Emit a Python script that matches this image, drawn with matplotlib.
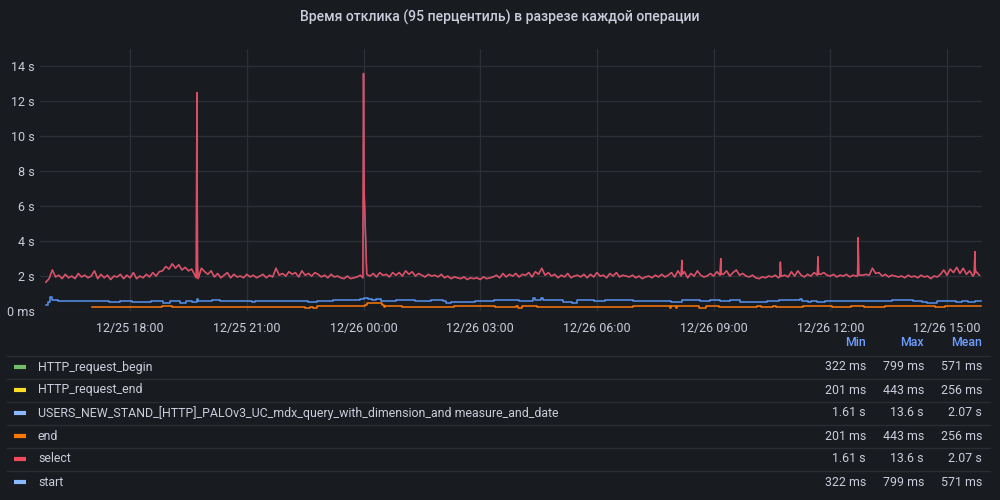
import pandas as pd
import matplotlib
matplotlib.use('Agg')
import matplotlib.pyplot as plt
import matplotlib.dates as mdates
from matplotlib.lines import Line2D
from matplotlib.ticker import FuncFormatter

plt.rcParams['font.family'] = ['Roboto', 'DejaVu Sans']

BG = '#181b1f'
TXT = '#ccccdc'
GRID = '#2c2f35'

title = 'Время отклика (95 перцентиль) в разрезе каждой операции'

# select / USERS_NEW_STAND... (same data), seconds, every 5 min from 12/25 15:50
sel_start = '2023-12-25 15:50'
select_vals = [
    1.65, 1.85, 2.35, 1.95, 2.05, 1.85, 2.1, 1.9, 2.0, 1.85, 2.15, 1.95,
    2.05, 1.9, 2.0, 2.3, 1.85, 2.1, 1.9, 2.05, 1.8, 2.0, 1.95, 2.1,
    1.85, 2.05, 1.9, 2.2, 1.85, 2.0, 1.9, 2.1, 1.95, 2.2, 2.0, 2.25,
    2.3, 2.55, 2.4, 2.7, 2.45, 2.65, 2.35, 2.5, 2.3, 2.4, 2.05, 1.85,
    2.45, 2.25, 2.1, 2.3, 1.95, 2.15, 1.9, 2.05, 2.2, 1.9, 2.1, 1.95,
    2.0, 1.9, 2.1, 1.95, 2.05, 1.9, 2.0, 2.1, 1.9, 2.05, 1.95, 2.45,
    2.05, 2.15, 2.0, 2.25, 2.1, 2.2, 1.95, 2.3, 2.05, 2.15, 2.0, 2.2,
    2.1, 1.95, 2.05, 1.9, 2.1, 1.95, 2.0, 1.9, 1.85, 2.0, 1.85, 1.9,
    1.95, 2.05, 1.9, 2.1, 2.0, 2.15, 1.95, 2.2, 2.05, 2.1, 1.95, 2.2,
    2.05, 2.2, 2.0, 2.3, 2.1, 2.25, 2.0, 2.15, 2.05, 1.95, 2.1, 2.0,
    2.05, 1.95, 2.1, 1.9, 2.0, 1.85, 1.95, 1.9, 1.85, 1.95, 1.8, 1.9,
    1.85, 1.9, 1.8, 1.95, 1.85, 1.9, 1.95, 2.05, 1.9, 2.15, 1.95, 2.1,
    2.0, 2.15, 1.95, 2.1, 2.05, 2.2, 1.95, 2.25, 2.1, 2.45, 2.05, 2.2,
    2.0, 2.1, 1.9, 2.05, 1.95, 2.15, 1.9, 2.0, 2.05, 1.95, 2.1, 1.9,
    2.1, 1.95, 2.2, 2.0, 2.05, 1.9, 2.15, 2.0, 2.2, 1.95, 2.05, 2.0,
    1.95, 2.05, 1.9, 2.0, 1.85, 1.95, 2.0, 1.9, 2.05, 1.95, 2.1, 1.95,
    2.05, 2.2, 1.95, 2.3, 2.0, 2.25, 1.9, 2.15, 2.0, 2.3, 2.05, 1.95,
    2.0, 2.15, 2.0, 2.25, 2.05, 2.1, 2.3, 2.0, 2.2, 2.35, 2.05, 2.15,
    2.0, 1.95, 2.05, 1.9, 1.85, 1.95, 1.9, 2.0, 1.95, 2.05, 1.9, 2.0,
    2.05, 1.95, 2.25, 2.0, 2.3, 2.05, 1.95, 2.1, 2.0, 2.2, 2.0, 2.1,
    2.2, 2.05, 2.0, 2.1, 1.95, 2.05, 2.0, 2.1, 1.95, 2.05, 2.0, 2.05,
    2.05, 2.1, 2.05, 2.45, 2.15, 2.2, 2.0, 2.1, 1.95, 2.05, 2.0, 1.95,
    2.0, 1.9, 2.05, 1.95, 2.0, 1.9, 2.05, 1.95, 2.0, 1.85, 2.0, 1.95,
    2.1, 2.35, 2.05, 2.4, 2.2, 2.5, 2.15, 2.45, 2.1, 2.3, 2.0, 2.25,
    2.05,
]

# short spikes in select (1-min samples around each peak)
spike_times = ['12/25 19:43', '12/26 00:00', '12/26 08:11', '12/26 09:11',
               '12/26 10:43', '12/26 11:41', '12/26 12:43', '12/26 15:43']
spike_peaks = [12.5, 13.6, 2.9, 3.0, 2.8, 3.1, 4.2, 3.4]
spike_left = [1.9, 1.9, 2.0, 2.05, 1.95, 2.05, 2.0, 2.1]
spike_right = [2.6, 6.9, 2.1, 2.1, 2.0, 2.1, 2.1, 2.2]

# start / HTTP_request_begin, seconds, value holds until next change
start_times = ['12/25 15:50', '12/25 15:53', '12/25 15:57', '12/25 16:00', '12/25 16:09',
               '12/25 17:28', '12/25 17:45', '12/25 18:03', '12/25 18:32', '12/25 18:51',
               '12/25 19:02', '12/25 19:17', '12/25 19:26', '12/25 19:35', '12/25 19:43',
               '12/25 19:45', '12/25 20:06', '12/25 20:19', '12/25 21:08', '12/25 21:13',
               '12/25 22:02', '12/25 22:35', '12/25 22:49', '12/25 23:13', '12/25 23:54',
               '12/26 00:01', '12/26 00:07', '12/26 00:13', '12/26 00:20', '12/26 00:27',
               '12/26 00:50', '12/26 01:20', '12/26 01:44', '12/26 02:02', '12/26 02:08',
               '12/26 02:15', '12/26 02:52', '12/26 03:21', '12/26 04:00', '12/26 04:22',
               '12/26 04:25', '12/26 04:34', '12/26 04:37', '12/26 05:07', '12/26 05:21',
               '12/26 05:29', '12/26 05:56', '12/26 06:13', '12/26 06:56', '12/26 07:23',
               '12/26 07:55', '12/26 08:12', '12/26 08:39', '12/26 08:55', '12/26 09:10',
               '12/26 09:25', '12/26 09:41', '12/26 10:22', '12/26 10:41', '12/26 11:13',
               '12/26 11:16', '12/26 11:26', '12/26 11:31', '12/26 11:40', '12/26 11:52',
               '12/26 13:35', '12/26 14:08', '12/26 14:21', '12/26 14:29', '12/26 14:44',
               '12/26 15:14', '12/26 15:23', '12/26 15:33', '12/26 15:43', '12/26 15:52']
start_vals = [0.34, 0.53, 0.78, 0.65, 0.57,
              0.52, 0.57, 0.52, 0.57, 0.47,
              0.57, 0.48, 0.57, 0.52, 0.67,
              0.57, 0.63, 0.57, 0.52, 0.55,
              0.57, 0.52, 0.57, 0.63, 0.69,
              0.73, 0.69, 0.63, 0.69, 0.57,
              0.63, 0.57, 0.63, 0.55, 0.44,
              0.54, 0.57, 0.61, 0.57, 0.73,
              0.65, 0.73, 0.61, 0.54, 0.48,
              0.61, 0.57, 0.61, 0.55, 0.59,
              0.54, 0.63, 0.57, 0.61, 0.57,
              0.61, 0.52, 0.57, 0.63, 0.69,
              0.57, 0.52, 0.57, 0.52, 0.57,
              0.63, 0.57, 0.54, 0.44, 0.57,
              0.52, 0.57, 0.52, 0.57, 0.57]

# end / HTTP_request_end, seconds
end_times = ['12/25 17:01', '12/25 18:49', '12/25 19:04', '12/25 22:27', '12/25 22:30',
             '12/25 22:38', '12/25 22:42', '12/25 22:49', '12/26 00:02', '12/26 00:05',
             '12/26 00:28', '12/26 00:31', '12/26 00:33', '12/26 01:00', '12/26 02:20',
             '12/26 03:23', '12/26 03:55', '12/26 03:59', '12/26 04:04', '12/26 04:27',
             '12/26 06:55', '12/26 07:53', '12/26 07:54', '12/26 08:02', '12/26 08:03',
             '12/26 08:37', '12/26 08:48', '12/26 09:08', '12/26 10:07', '12/26 10:13',
             '12/26 10:32', '12/26 10:36', '12/26 11:18', '12/26 12:03', '12/26 12:32',
             '12/26 12:52', '12/26 13:25', '12/26 14:42', '12/26 14:57', '12/26 15:52']
end_vals = [0.21, 0.29, 0.21, 0.25, 0.20,
            0.25, 0.20, 0.27, 0.35, 0.43,
            0.33, 0.22, 0.27, 0.21, 0.27,
            0.21, 0.27, 0.20, 0.27, 0.21,
            0.27, 0.20, 0.27, 0.20, 0.27,
            0.19, 0.27, 0.21, 0.27, 0.21,
            0.27, 0.21, 0.27, 0.21, 0.27,
            0.21, 0.27, 0.21, 0.27, 0.27]

series_names = ['HTTP_request_begin', 'HTTP_request_end',
                'USERS_NEW_STAND_[HTTP]_PALOv3_UC_mdx_query_with_dimension_and measure_and_date',
                'end', 'select', 'start']
series_colors = ['#73bf69', '#fade2a', '#8ab8ff', '#ff780a', '#f2495c', '#8ab8ff']
col_min = ['322 ms', '201 ms', '1.61 s', '201 ms', '1.61 s', '322 ms']
col_max = ['799 ms', '443 ms', '13.6 s', '443 ms', '13.6 s', '799 ms']
col_mean = ['571 ms', '256 ms', '2.07 s', '256 ms', '2.07 s', '571 ms']


def to_ts(lst):
    return pd.to_datetime(['2023/' + s for s in lst], format='%Y/%m/%d %H:%M')


sel = pd.Series(select_vals,
                index=pd.date_range(sel_start, periods=len(select_vals), freq='5min'))
sp_t = to_ts(spike_times)
one = pd.Timedelta(minutes=1)
extra = pd.concat([pd.Series(spike_left, index=sp_t - one),
                   pd.Series(spike_peaks, index=sp_t),
                   pd.Series(spike_right, index=sp_t + one)])
# spike samples replace grid samples at the same minute
sel = sel.drop(extra.index, errors='ignore')
sel = pd.concat([sel, extra]).sort_index()

st_t = to_ts(start_times)
en_t = to_ts(end_times)

fig = plt.figure(figsize=(10, 5), dpi=100, facecolor=BG)
ax = fig.add_axes([0.040, 0.378, 0.942, 0.524], facecolor=BG)

# HTTP_request_begin / HTTP_request_end / USERS are hidden under start / end / select
ax.plot(sel.index, sel.values, color='#8ab8ff', lw=1.0, alpha=0.5)
ax.step(en_t, end_vals, where='post', color='#ff780a', lw=1.1)
ax.plot(sel.index, sel.values, color='#f2495c', lw=1.1, alpha=0.9)
ax.step(st_t, start_vals, where='post', color='#5794f2', lw=1.1)

ax.set_xlim(pd.Timestamp('2023-12-25 15:41'), pd.Timestamp('2023-12-26 15:54'))
ax.set_ylim(0, 15)
ax.set_yticks(range(0, 15, 2))
ax.yaxis.set_major_formatter(FuncFormatter(lambda v, p: '0 ms' if v == 0 else '%d s' % v))
ax.xaxis.set_major_locator(mdates.HourLocator(byhour=[0, 3, 6, 9, 12, 15, 18, 21]))
ax.xaxis.set_major_formatter(mdates.DateFormatter('%m/%d %H:%M'))
ax.grid(True, color=GRID, lw=1)
ax.set_axisbelow(True)
for s in ax.spines.values():
    s.set_visible(False)
ax.tick_params(colors=TXT, labelsize=9, length=0)
ax.tick_params(axis='y', pad=4)
ax.tick_params(axis='x', pad=8)

fig.text(0.5, 1 - 17 / 500, title, color=TXT, fontsize=10.1, fontweight='medium',
         ha='center', va='center')


# legend table in pixel coords
def px(x, y):
    return x / 1000, 1 - y / 500


FS = 8.9
hdr_y = 343
fig.text(*px(866, hdr_y), 'Min', color='#6e9fff', fontsize=FS, fontweight='medium', ha='right', va='center')
fig.text(*px(924, hdr_y), 'Max', color='#6e9fff', fontsize=FS, fontweight='medium', ha='right', va='center')
fig.text(*px(982, hdr_y), 'Mean', color='#6e9fff', fontsize=FS, fontweight='medium', ha='right', va='center')

for i, name in enumerate(series_names):
    yc = 367 + i * 23
    ysep = 355.5 + i * 23
    fig.add_artist(Line2D([7 / 1000, 990 / 1000], [1 - ysep / 500] * 2,
                          transform=fig.transFigure, color='#2a2d32', lw=1))
    fig.add_artist(Line2D([14 / 1000, 26 / 1000], [1 - yc / 500] * 2,
                          transform=fig.transFigure, color=series_colors[i], lw=3,
                          solid_capstyle='butt'))
    fig.text(*px(38, yc), name, color=TXT, fontsize=FS, ha='left', va='center')
    fig.text(*px(866, yc), col_min[i], color=TXT, fontsize=FS, ha='right', va='center')
    fig.text(*px(924, yc), col_max[i], color=TXT, fontsize=FS, ha='right', va='center')
    fig.text(*px(982, yc), col_mean[i], color=TXT, fontsize=FS, ha='right', va='center')

fig.savefig('out.png', dpi=100, facecolor=BG)
